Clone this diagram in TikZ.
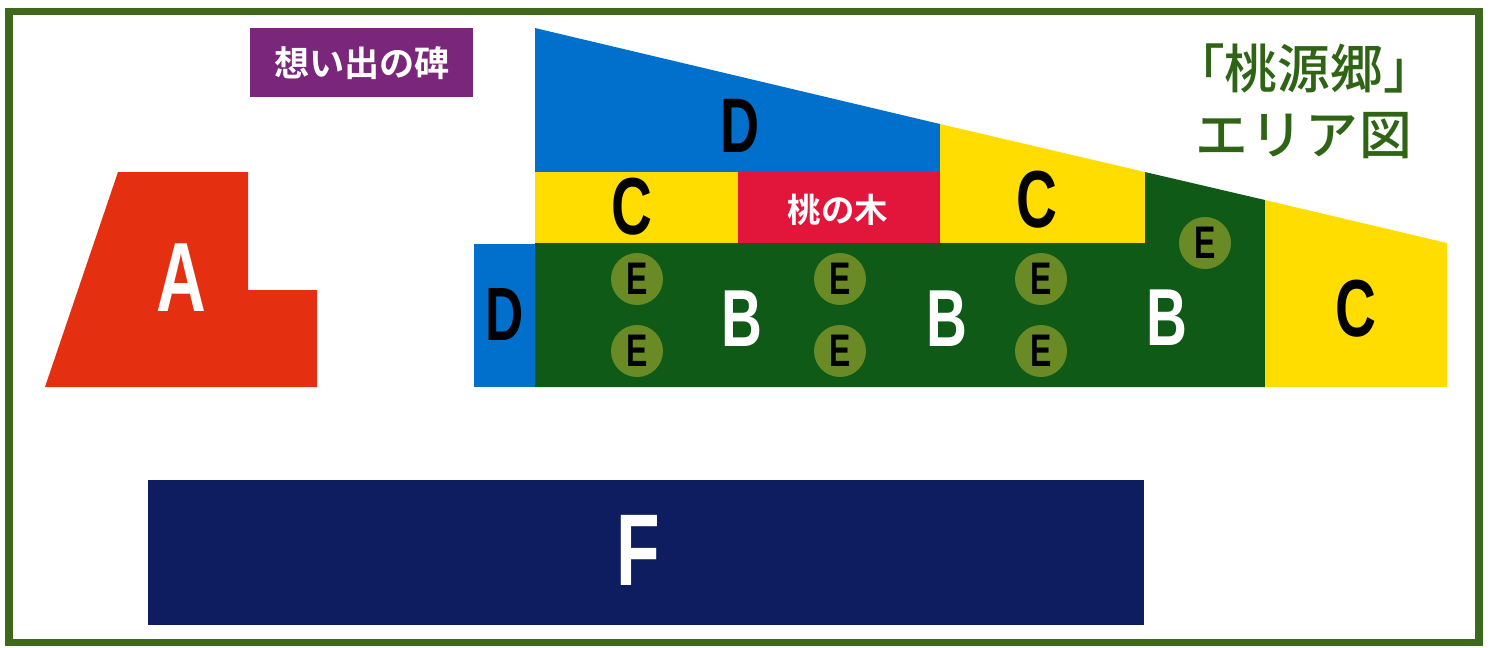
\documentclass[tikz,border=0pt]{standalone}
\usepackage{fontspec}
\usepackage{tikz}
\newfontfamily\latn[FakeStretch=0.7]{Liberation Sans}
\newfontfamily\cjk{Noto Sans CJK JP Bold}
\newfontfamily\cjkm{Noto Sans CJK JP Medium}
\definecolor{frameg}{RGB}{62,104,28}
\definecolor{titleg}{RGB}{46,100,20}
\definecolor{areaA}{RGB}{228,48,16}
\definecolor{stone}{RGB}{122,38,122}
\definecolor{areaB}{RGB}{14,90,22}
\definecolor{areaC}{RGB}{255,221,0}
\definecolor{areaD}{RGB}{0,112,204}
\definecolor{areaE}{RGB}{106,138,38}
\definecolor{areaF}{RGB}{14,28,96}
\definecolor{peach}{RGB}{226,22,58}
\newcommand{\sz}[1]{\fontsize{#1}{#1}\selectfont}

\begin{document}
\begin{tikzpicture}[x=0.01cm, y=-0.01cm,
  lab/.style={inner sep=0pt, font=\latn\bfseries\sz{23}},
  jp/.style={inner sep=0pt, font=\cjk\sz{10}},
  spot/.style={circle, fill=areaE, minimum size=52*0.01cm, inner sep=0pt, font=\latn\bfseries\sz{13}}]
  \useasboundingbox (0,0) rectangle (1493,647);

  \fill[areaA] (118,172) -- (248,172) -- (248,290) -- (317,290) -- (317,387) -- (45,387) -- cycle;
  \fill[stone] (250,28) rectangle (473,97);
  \fill[areaD] (535,28) -- (940,124) -- (940,172) -- (535,172) -- cycle;
  \fill[areaD] (474,244) rectangle (535,387);
  \fill[areaC] (535,172) rectangle (738,243);
  \fill[peach] (738,172) rectangle (940,243);
  \fill[areaC] (940,124) -- (1145,172) -- (1145,243) -- (940,243) -- cycle;
  \fill[areaB] (535,243) -- (1145,243) -- (1145,172) -- (1265,200) -- (1265,387) -- (535,387) -- cycle;
  \fill[areaC] (1265,200) -- (1447,243) -- (1447,387) -- (1265,387) -- cycle;
  \fill[areaF] (148,480) rectangle (1144,625);
  \draw[frameg, line width=2pt] (9,11) rectangle (1479,642);

  \node[lab, white, font=\latn\bfseries\sz{28}] (a) at (181,278) {A};
  \node[jp, white] (stonetxt) at (362,63) {想い出の碑};
  \node[lab, font=\latn\bfseries\sz{22}] (dtop) at (740,126) {D};
  \node[lab] (cleft) at (632,207) {C};
  \node[jp, white, font=\cjk\sz{9.5}] (tree) at (838,210) {桃の木};
  \node[lab] (cmid) at (1037,200) {C};
  \node[lab, font=\latn\bfseries\sz{21.5}] (dleft) at (505,314) {D};
  \node[lab, white] (b1) at (742,319) {B};
  \node[lab, white] (b2) at (947,319) {B};
  \node[lab, white] (b3) at (1167,318) {B};
  \node[lab] (cright) at (1356,309) {C};
  \node[lab, white, font=\latn\bfseries\sz{29}] (f) at (638,550) {F};

  \foreach \x/\y [count=\i] in {637/279, 637/351, 840/279, 840/351, 1041/279, 1041/351, 1205/243}
    \node[spot] (e\i) at (\x,\y) {E};

  \node[jp, titleg, font=\cjkm\sz{15}] (title) at (1304,68) {「桃源郷」};
  \node[jp, titleg, font=\cjkm\sz{15}] (subtitle) at (1304,136) {エ\kern0.6pt リ\kern0.6pt ア\kern0.6pt 図};
\end{tikzpicture}
\end{document}
